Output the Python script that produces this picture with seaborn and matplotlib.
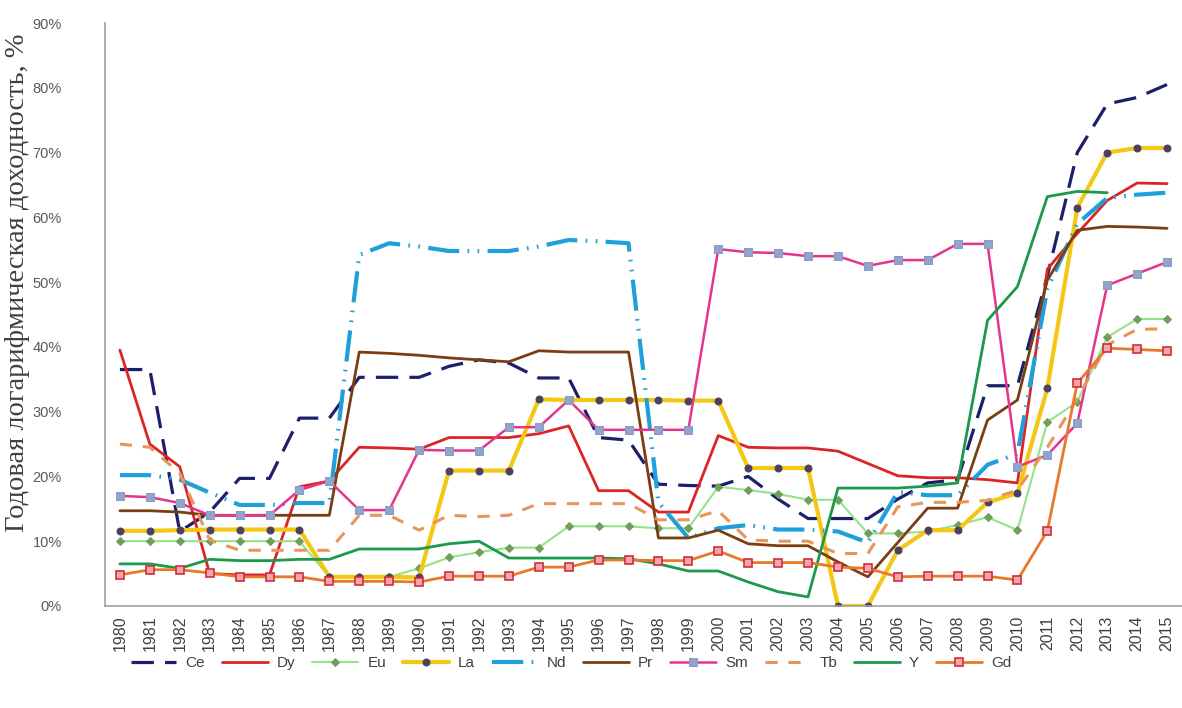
import numpy as np
import matplotlib
matplotlib.use("Agg")
import matplotlib.pyplot as plt
import seaborn as sns

nan = np.nan
years = list(range(1980, 2016))

# годовая логарифмическая доходность, %
ce = [36.5, 36.5, 11.5, 14.5, 19.7, 19.7, 29, 29, 35.3, 35.3,
      35.3, 37, 38, 37.5, 35.2, 35.2, 26, 25.6, 18.8, 18.6,
      18.5, 20, 16.5, 13.5, 13.5, 13.5, 16.5, 19, 19.5, 34,
      34, 51, 70, 77.5, 78.5, 80.5]
dy = [39.5, 25, 21.5, 5, 4.8, 4.8, 18.4, 19.3, 24.5, 24.4,
      24.2, 26, 26, 26, 26.6, 27.8, 17.8, 17.8, 14.5, 14.5,
      26.3, 24.5, 24.4, 24.4, 23.9, 22, 20.1, 19.8, 19.8, 19.5,
      19, 52, 57.5, 62.6, 65.3, 65.2]
eu = [10, 10, 10, 10, 10, 10, 10, 4.5, 4.5, 4.5,
      5.8, 7.5, 8.3, 9, 9, 12.3, 12.3, 12.3, 12, 12,
      18.4, 17.9, 17.3, 16.4, 16.4, 11.2, 11.2, 11.5, 12.5, 13.7,
      11.7, 28.4, 31.5, 41.5, 44.3, 44.3]
la = [11.6, 11.6, 11.7, 11.8, 11.8, 11.8, 11.8, 4.5, 4.5, 4.5,
      4.4, 20.9, 20.9, 20.9, 31.9, 31.8, 31.8, 31.8, 31.8, 31.7,
      31.7, 21.3, 21.3, 21.3, 0, 0, 8.6, 11.7, 11.7, 16,
      17.4, 33.6, 61.5, 70, 70.7, 70.7]
nd = [20.2, 20.2, 19.5, 17.5, 15.6, 15.6, 15.9, 15.9, 54.2, 56,
      55.5, 54.8, 54.8, 54.8, 55.5, 56.5, 56.3, 56, 16, 10.5,
      12, 12.5, 11.8, 11.8, 11.5, 9.8, 17.6, 17.1, 17.1, 21.8,
      23.5, 49, 59, 63, 63.5, 63.8]
pr = [14.7, 14.7, 14.5, 14, 14, 14, 14, 14, 39.2, 39,
      38.7, 38.3, 38, 37.7, 39.4, 39.2, 39.2, 39.2, 10.5, 10.5,
      11.7, 9.6, 9.3, 9.3, 6.8, 4.5, 9.8, 15.1, 15.1, 28.7,
      31.8, 50.3, 58, 58.6, 58.5, 58.3]
sm = [17, 16.8, 15.9, 14, 14, 14, 17.9, 19.3, 14.8, 14.8,
      24.1, 24, 24, 27.6, 27.6, 31.8, 27.2, 27.2, 27.2, 27.2,
      55.1, 54.6, 54.5, 54, 54, 52.5, 53.4, 53.4, 55.9, 55.9,
      21.5, 23.3, 28.2, 49.5, 51.3, 53.1]
tb = [25, 24.5, 20.5, 10.2, 8.6, 8.6, 8.6, 8.6, 14, 14,
      11.7, 14, 13.8, 14, 15.8, 15.8, 15.8, 15.8, 13.3, 13.3,
      14.7, 10.2, 10, 10, 8.1, 8.1, 15.3, 16, 16, 16.3,
      17.9, 24.5, 32, 40.3, 42.7, 42.8]
yy = [6.5, 6.5, 5.8, 7.2, 7, 7, 7.2, 7.2, 8.8, 8.8,
      8.8, 9.6, 10, 7.4, 7.4, 7.4, 7.4, 7.3, 6.5, 5.4,
      5.4, 3.7, 2.2, 1.4, 18.2, 18.2, 18.2, 18.5, 19, 44.1,
      49.3, 63.2, 64, 63.8, nan, nan]
gd = [4.8, 5.6, 5.6, 5.1, 4.5, 4.5, 4.5, 3.8, 3.8, 3.8,
      3.7, 4.6, 4.6, 4.6, 6, 6, 7.1, 7.1, 7, 7,
      8.5, 6.7, 6.7, 6.7, 6, 5.8, 4.5, 4.6, 4.6, 4.6,
      4, 11.6, 34.4, 39.8, 39.6, 39.4]

names = ["Ce", "Dy", "Eu", "La", "Nd", "Pr", "Sm", "Tb", "Y", "Gd"]
values = [ce, dy, eu, la, nd, pr, sm, tb, yy, gd]

styles = {
    "Ce": dict(color="#1c1f6b", linewidth=2.3, linestyle=(0, (7, 3.5))),
    "Dy": dict(color="#dc2426", linewidth=2.0),
    "Eu": dict(color="#93e38a", linewidth=1.5, marker="D", markersize=4,
               markerfacecolor="#6f9f5a", markeredgecolor="#6f9f5a"),
    "La": dict(color="#f3c814", linewidth=3.0, marker="o", markersize=5,
               markerfacecolor="#4b4060", markeredgecolor="#4b4060"),
    "Nd": dict(color="#1fa0db", linewidth=3.0,
               linestyle=(0, (7.5, 2, 0.4, 2, 0.4, 2))),
    "Pr": dict(color="#7a3e12", linewidth=2.0),
    "Sm": dict(color="#e6348c", linewidth=1.8, marker="s", markersize=6,
               markerfacecolor="#90a4cc", markeredgecolor="#8a9cc4"),
    "Tb": dict(color="#e9955a", linewidth=2.2, linestyle=(0, (4, 3.5))),
    "Y": dict(color="#1a9a4a", linewidth=2.0),
    "Gd": dict(color="#e8792a", linewidth=2.0, marker="s", markersize=6,
               markerfacecolor="#f3a5b5", markeredgecolor="#d03030",
               markeredgewidth=1.2),
}

sns.set_theme(style="white")
plt.rcParams["font.family"] = ["Liberation Sans", "DejaVu Sans"]

fig = plt.figure(figsize=(11.82, 7.08), dpi=100)
ax = fig.add_axes([0.0888, 0.1441, 0.9112, 0.8234])

for name, vals in zip(names, values):
    sns.lineplot(x=years, y=vals, ax=ax, label=name, errorbar=None, **styles[name])

ax.set_ylim(0, 90)
ax.set_xlim(years[0] - 0.5, years[-1] + 0.24)
ax.set_yticks(range(0, 91, 10))
ax.set_yticklabels([f"{v}%" for v in range(0, 91, 10)])
ax.set_xticks(years)
ax.set_xticklabels([str(y) for y in years], rotation=90)
ax.set_xticks([y - 0.5 for y in years] + [years[-1] + 0.5], minor=True)
ax.tick_params(axis="x", which="major", length=0, pad=7, labelsize=11.5, labelcolor="#404040")
ax.tick_params(axis="x", which="minor", length=5, width=1, color="#a0a0a0", direction="out")
ax.tick_params(axis="y", length=6, width=1, color="#a0a0a0", direction="out",
               pad=25, labelsize=10.5, labelcolor="#595959")
for s in ["top", "right"]:
    ax.spines[s].set_visible(False)
for s in ["left", "bottom"]:
    ax.spines[s].set_color("#a0a0a0")
    ax.spines[s].set_linewidth(1.2)
ax.set_xlabel("")
ax.set_ylabel("")

fig.text(0.0145, 0.6, "Годовая логарифмическая доходность, %", rotation=90,
         ha="center", va="center", fontsize=20.5, color="#404040",
         family=["Liberation Serif", "DejaVu Serif"])

ax.legend_.remove()
handles, labels = ax.get_legend_handles_labels()
fig.legend(handles, labels, loc="center", bbox_to_anchor=(0.483, 1 - 663 / 708),
           ncol=10, frameon=False, handlelength=3.0, columnspacing=1.1,
           handletextpad=0.6, fontsize=11, labelcolor="#404040")

fig.savefig("out.png", dpi=100)
